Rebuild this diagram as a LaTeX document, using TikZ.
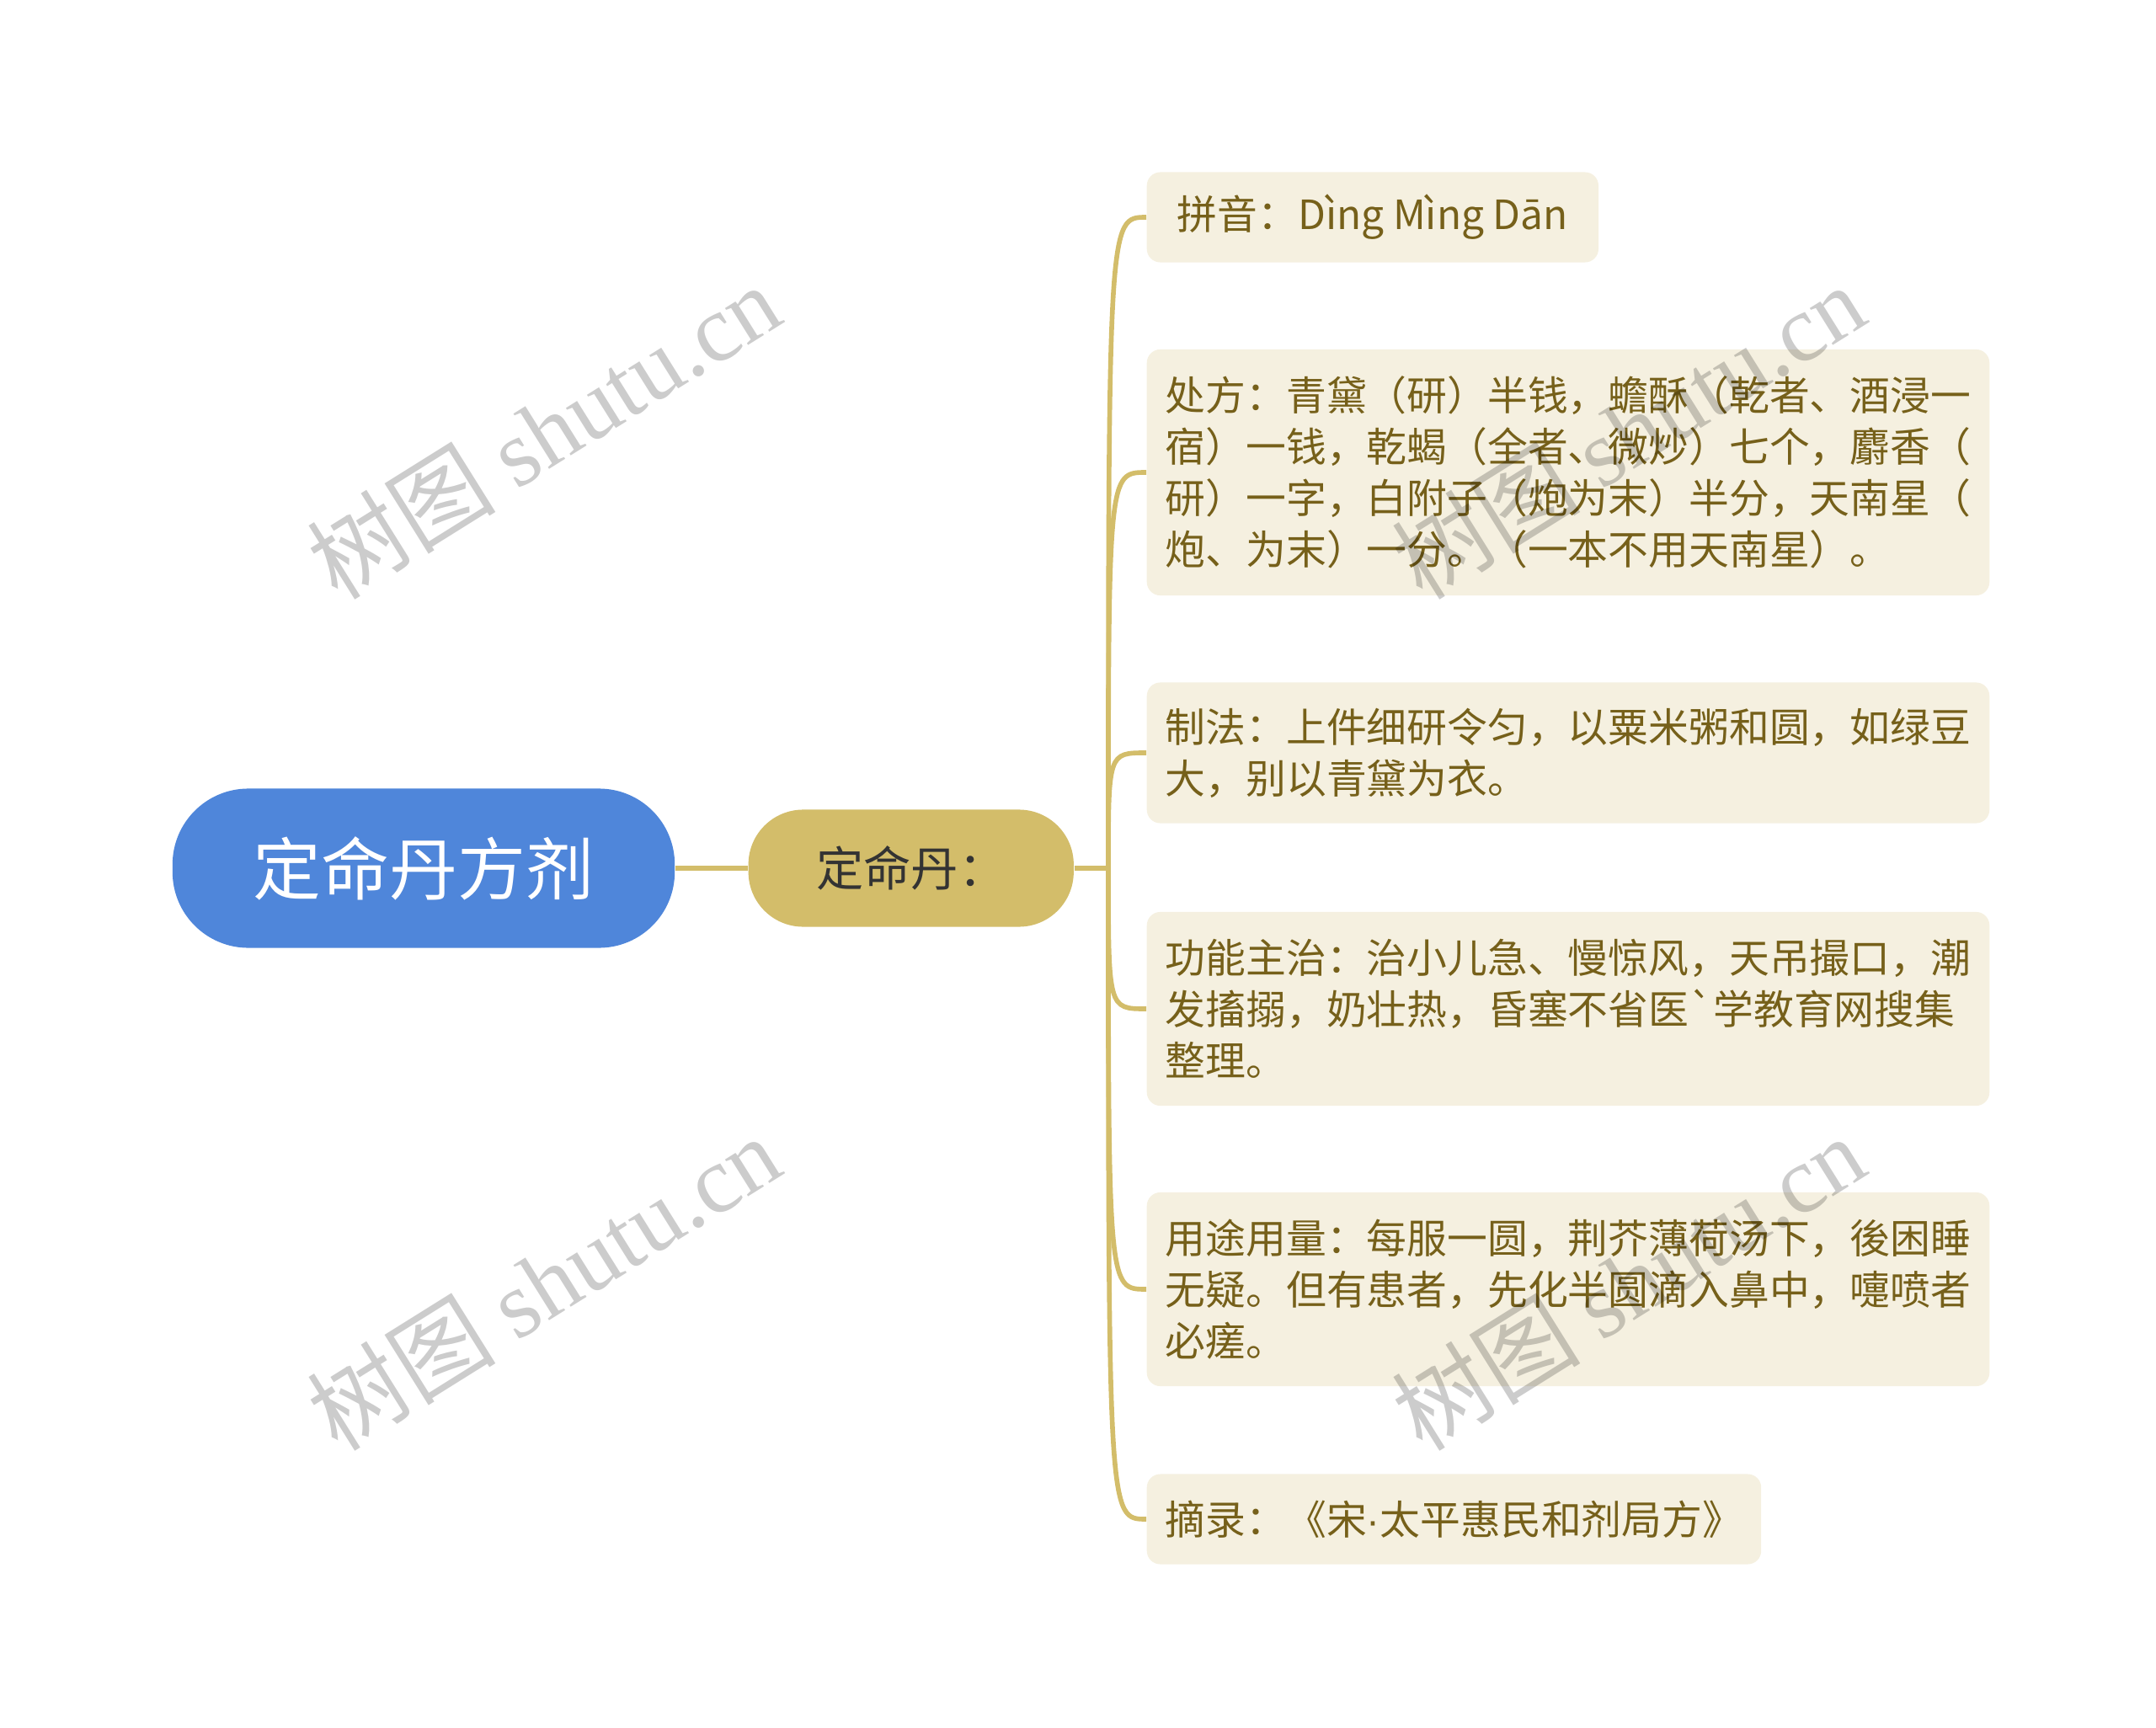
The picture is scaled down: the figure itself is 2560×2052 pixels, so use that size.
\documentclass[tikz,border=0pt]{standalone}
\usepackage{fontspec}
\setmainfont{Noto Sans CJK SC}[Ligatures=TeXOff]
\newfontfamily\wmlatin{Liberation Serif}
\newfontfamily\latinsans{Liberation Sans}
\usepackage{tikz}
\usetikzlibrary{positioning}
\usepackage{xcolor}
\definecolor{rootblue}{HTML}{4F86DA}
\definecolor{goldline}{HTML}{D3BD6A}
\definecolor{leafbg}{HTML}{F5F0E0}
\definecolor{leaftext}{HTML}{76601A}
\definecolor{topictext}{HTML}{333333}
\tikzset{
  rootnode/.style={rectangle, rounded corners=0.9cm, fill=rootblue, text=white,
    minimum width=5.96cm, minimum height=1.89cm, font=\fontsize{23}{28}\selectfont},
  topicnode/.style={rectangle, rounded corners=0.65cm, fill=goldline, text=topictext,
    minimum width=3.86cm, minimum height=1.39cm, font=\fontsize{16}{20}\selectfont},
  leafnode/.style={rectangle, rounded corners=0.16cm, fill=leafbg, text=leaftext,
    anchor=west, inner xsep=0.22cm, align=left, font=\fontsize{13.6}{17.3}\selectfont},
  branch/.style={draw=goldline, line width=1.6pt},
  watermark/.style={rotate=32, text=black, text opacity=0.2, font=\fontsize{32}{36}\selectfont}
}

\begin{document}
\begin{tikzpicture}[x=0.01cm, y=-0.01cm]
    \useasboundingbox (0,0) rectangle (2560,2052);

    \node[rootnode] (root) at (503,1031) {定命丹方剂};
    \node[topicnode, right=0.86cm of root] (topic) {定命丹：};
    \coordinate (hub) at (1316,1031);

    \node[leafnode, minimum width=5.36cm, minimum height=1.07cm] (pinyin) at (1361,258) {拼音：Dìng Mìng Dān};
    \node[leafnode, text width=9.56cm, minimum height=2.92cm] (recipe) at (1361,561)
      {处方：青黛（研）半钱，蟾酥（乾者、酒浸一\\宿）一钱，乾蝎（全者、微炒）七个，麝香（\\研）一字，白附子（炮为末）半分，天南星（\\炮、为末）一分。（一本不用天南星）。};
    \node[leafnode, text width=9.56cm, minimum height=1.67cm] (method) at (1361,894)
      {制法：上件细研令匀，以粟米粥和圆，如绿豆\\大，别以青黛为衣。};
    \node[leafnode, text width=9.56cm, minimum height=2.30cm] (usage) at (1361,1198)
      {功能主治：治小儿急、慢惊风，天吊撮口，潮\\发搐搦，奶壮热，昏塞不省医`学教育网搜集\\整理。};
    \node[leafnode, text width=9.56cm, minimum height=2.30cm] (dosage) at (1361,1531)
      {用途用量：每服一圆，荆芥薄荷汤下，後困睡\\无疑。但有患者，先化半圆滴入鼻中，嚏喷者\\必瘥。};
    \node[leafnode, minimum width=7.25cm, minimum height=1.07cm] (source) at (1361,1804) {摘录：《宋{\latinsans ·}太平惠民和剂局方》};

    \draw[branch] (root) -- (topic);
    \draw[branch] (topic) -- (hub);
    \foreach \leaf in {pinyin, recipe, method, usage, dosage, source}
      \draw[branch] (hub) .. controls (hub |- \leaf.west) .. (\leaf.west);

    % watermarks
    \node[watermark] (wm1) at (645,512) {树图 {\wmlatin shutu.cn}};
    \node[watermark] (wm2) at (645,1523) {树图 {\wmlatin shutu.cn}};
    \node[watermark] (wm3) at (1933,512) {树图 {\wmlatin shutu.cn}};
    \node[watermark] (wm4) at (1933,1523) {树图 {\wmlatin shutu.cn}};
\end{tikzpicture}
\end{document}
